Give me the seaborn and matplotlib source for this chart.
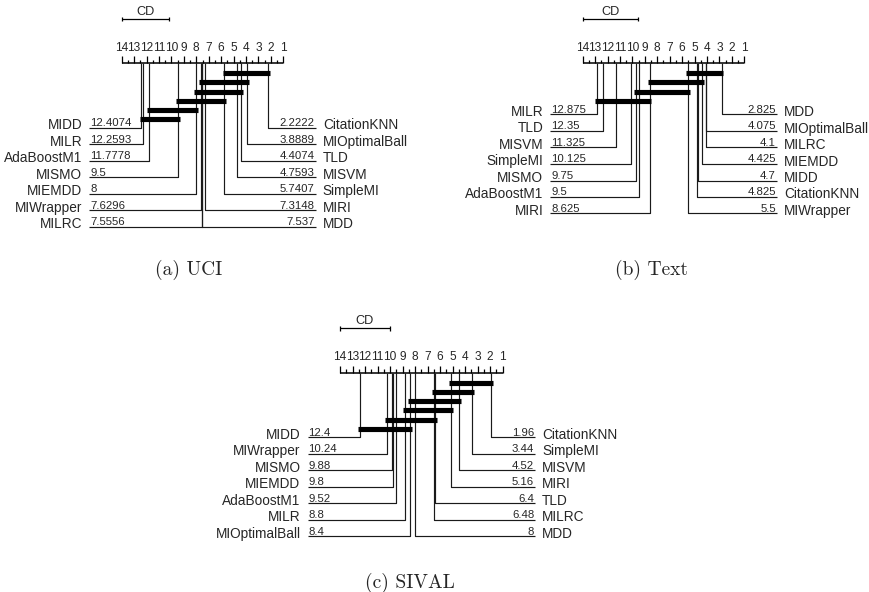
import numpy as np
import pandas as pd
import matplotlib
matplotlib.use("Agg")
import matplotlib.pyplot as plt
import seaborn as sns

N_METHODS = 14

# ---------------- data: (a) UCI ----------------
uci_left_names = ["MIDD", "MILR", "AdaBoostM1", "MISMO", "MIEMDD", "MIWrapper", "MILRC"]
uci_left_ranks = [12.4074, 12.2593, 11.7778, 9.5, 8, 7.6296, 7.5556]
uci_right_names = ["CitationKNN", "MIOptimalBall", "TLD", "MISVM", "SimpleMI", "MIRI", "MDD"]
uci_right_ranks = [2.2222, 3.8889, 4.4074, 4.7593, 5.7407, 7.3148, 7.537]
uci_cliques = [(2.2222, 5.7407), (3.8889, 7.6296), (4.4074, 8), (5.7407, 9.5),
               (8, 11.7778), (9.5, 12.4074)]
uci_cd = 3.82

# ---------------- data: (b) Text ----------------
text_left_names = ["MILR", "TLD", "MISVM", "SimpleMI", "MISMO", "AdaBoostM1", "MIRI"]
text_left_ranks = [12.875, 12.35, 11.325, 10.125, 9.75, 9.5, 8.625]
text_right_names = ["MDD", "MIOptimalBall", "MILRC", "MIEMDD", "MIDD", "CitationKNN", "MIWrapper"]
text_right_ranks = [2.825, 4.075, 4.1, 4.425, 4.7, 4.825, 5.5]
text_cliques = [(2.825, 5.5), (4.425, 8.625), (5.5, 9.75), (8.625, 12.875)]
text_cd = 4.44

# ---------------- data: (c) SIVAL ----------------
sival_left_names = ["MIDD", "MIWrapper", "MISMO", "MIEMDD", "AdaBoostM1", "MILR", "MIOptimalBall"]
sival_left_ranks = [12.4, 10.24, 9.88, 9.8, 9.52, 8.8, 8.4]
sival_right_names = ["CitationKNN", "SimpleMI", "MISVM", "MIRI", "TLD", "MILRC", "MDD"]
sival_right_ranks = [1.96, 3.44, 4.52, 5.16, 6.4, 6.48, 8]
sival_cliques = [(1.96, 5.16), (3.44, 6.48), (4.52, 8.4), (5.16, 8.8), (6.4, 10.24), (8.4, 12.4)]
sival_cd = 3.97

captions = ["(a) UCI", "(b) Text", "(c) SIVAL"]

# ---------------- style ----------------
sns.set_theme(style="white")
plt.rcParams["font.family"] = ["Liberation Sans", "DejaVu Sans"]

FW, FH = 870, 592
fig = plt.figure(figsize=(FW / 100, FH / 100), dpi=100)


def fmt(v):
    return f"{v:.4f}".rstrip("0").rstrip(".")


def draw_panel(region, a14, a1, ay, label_start, lnames, lranks, rnames, rranks, cliques, cd):
    L, T, W, H = region
    ax = fig.add_axes([L / FW, 1 - (T + H) / FH, W / FW, H / FH])
    n = N_METHODS
    s = (a1 - a14) / (n - 1)
    px = 1.0 / s  # one pixel in rank units (rank grows to the left)
    xlim = (n - (L - a14) / s, n - (L + W - a14) / s)
    ylim = (T + H - ay, T - ay)

    k = dict(color="black", solid_capstyle="butt", clip_on=False)
    # axis line and ticks
    ax.plot([n, 1], [0, 0], lw=1.1, **k)
    for r in np.arange(1, n + 0.01, 0.5):
        tl = 7 if float(r).is_integer() else 3.5
        ax.plot([r, r], [0, -tl], lw=0.9, **k)
    for r in range(1, n + 1):
        ax.text(r, -12.5, str(r), ha="center", va="baseline", fontsize=8.6)

    # CD bar
    ax.plot([n, n - cd], [-44.3, -44.3], lw=0.9, **k)
    for e in (n, n - cd):
        ax.plot([e, e], [-46.5, -42.1], lw=0.9, **k)
    ax.text(n - cd / 2, -48.5, "CD", ha="center", va="baseline", fontsize=9.2)

    # connectors
    rows = []
    x_left_end = n + 32.5 * px
    x_right_end = 1 - 32.5 * px
    for i, (nm, r) in enumerate(zip(lnames, lranks)):
        y = label_start + i * 16.5
        rows += [(f"L{i}", r, 0), (f"L{i}", r, y), (f"L{i}", x_left_end, y)]
        ax.text(x_left_end + 7 * px, y + 1.5, nm, ha="right", va="baseline", fontsize=9.8)
        ax.text(x_left_end - 1 * px, y - 1.6, fmt(r), ha="left", va="baseline", fontsize=8.2)
    for i, (nm, r) in enumerate(zip(rnames, rranks)):
        y = label_start + i * 16.5
        rows += [(f"R{i}", r, 0), (f"R{i}", r, y), (f"R{i}", x_right_end, y)]
        ax.text(x_right_end - 7 * px, y + 1.5, nm, ha="left", va="baseline", fontsize=9.8)
        ax.text(x_right_end + 1 * px, y - 1.6, fmt(r), ha="right", va="baseline", fontsize=8.2)
    conn = pd.DataFrame(rows, columns=["seg", "x", "y"])
    sns.lineplot(data=conn, x="x", y="y", units="seg", estimator=None, sort=False,
                 color="#1a1a1a", linewidth=0.85, legend=False, ax=ax,
                 solid_capstyle="butt")

    # cliques
    crow = []
    ext = 0.15
    for j, (lo, hi) in enumerate(cliques):
        y = 10 + j * 9.2
        crow += [(j, lo - ext, y), (j, hi + ext, y)]
    cdf = pd.DataFrame(crow, columns=["seg", "x", "y"])
    sns.lineplot(data=cdf, x="x", y="y", units="seg", estimator=None, sort=False,
                 color="black", linewidth=3.7, legend=False, ax=ax,
                 solid_capstyle="butt")
    ax.set_xlim(*xlim)
    ax.set_ylim(*ylim)
    ax.axis("off")
    return ax


draw_panel((0, 0, 435, 250), 121.7, 283.3, 63.3, 64.4,
           uci_left_names, uci_left_ranks, uci_right_names, uci_right_ranks, uci_cliques, uci_cd)
draw_panel((435, 0, 435, 250), 582.7, 744.3, 63.3, 51.2,
           text_left_names, text_left_ranks, text_right_names, text_right_ranks, text_cliques, text_cd)
draw_panel((150, 300, 570, 250), 340.0, 502.7, 372.7, 64.6,
           sival_left_names, sival_left_ranks, sival_right_names, sival_right_ranks, sival_cliques, sival_cd)

cap_pos = [(155, 275), (615, 275), (365, 588)]
for (cx, cy), c in zip(cap_pos, captions):
    fig.text(cx / FW, 1 - cy / FH, c, ha="left", va="baseline", fontsize=14,
             family=["cmr10", "DejaVu Serif"])

fig.savefig("out.png", dpi=100)
